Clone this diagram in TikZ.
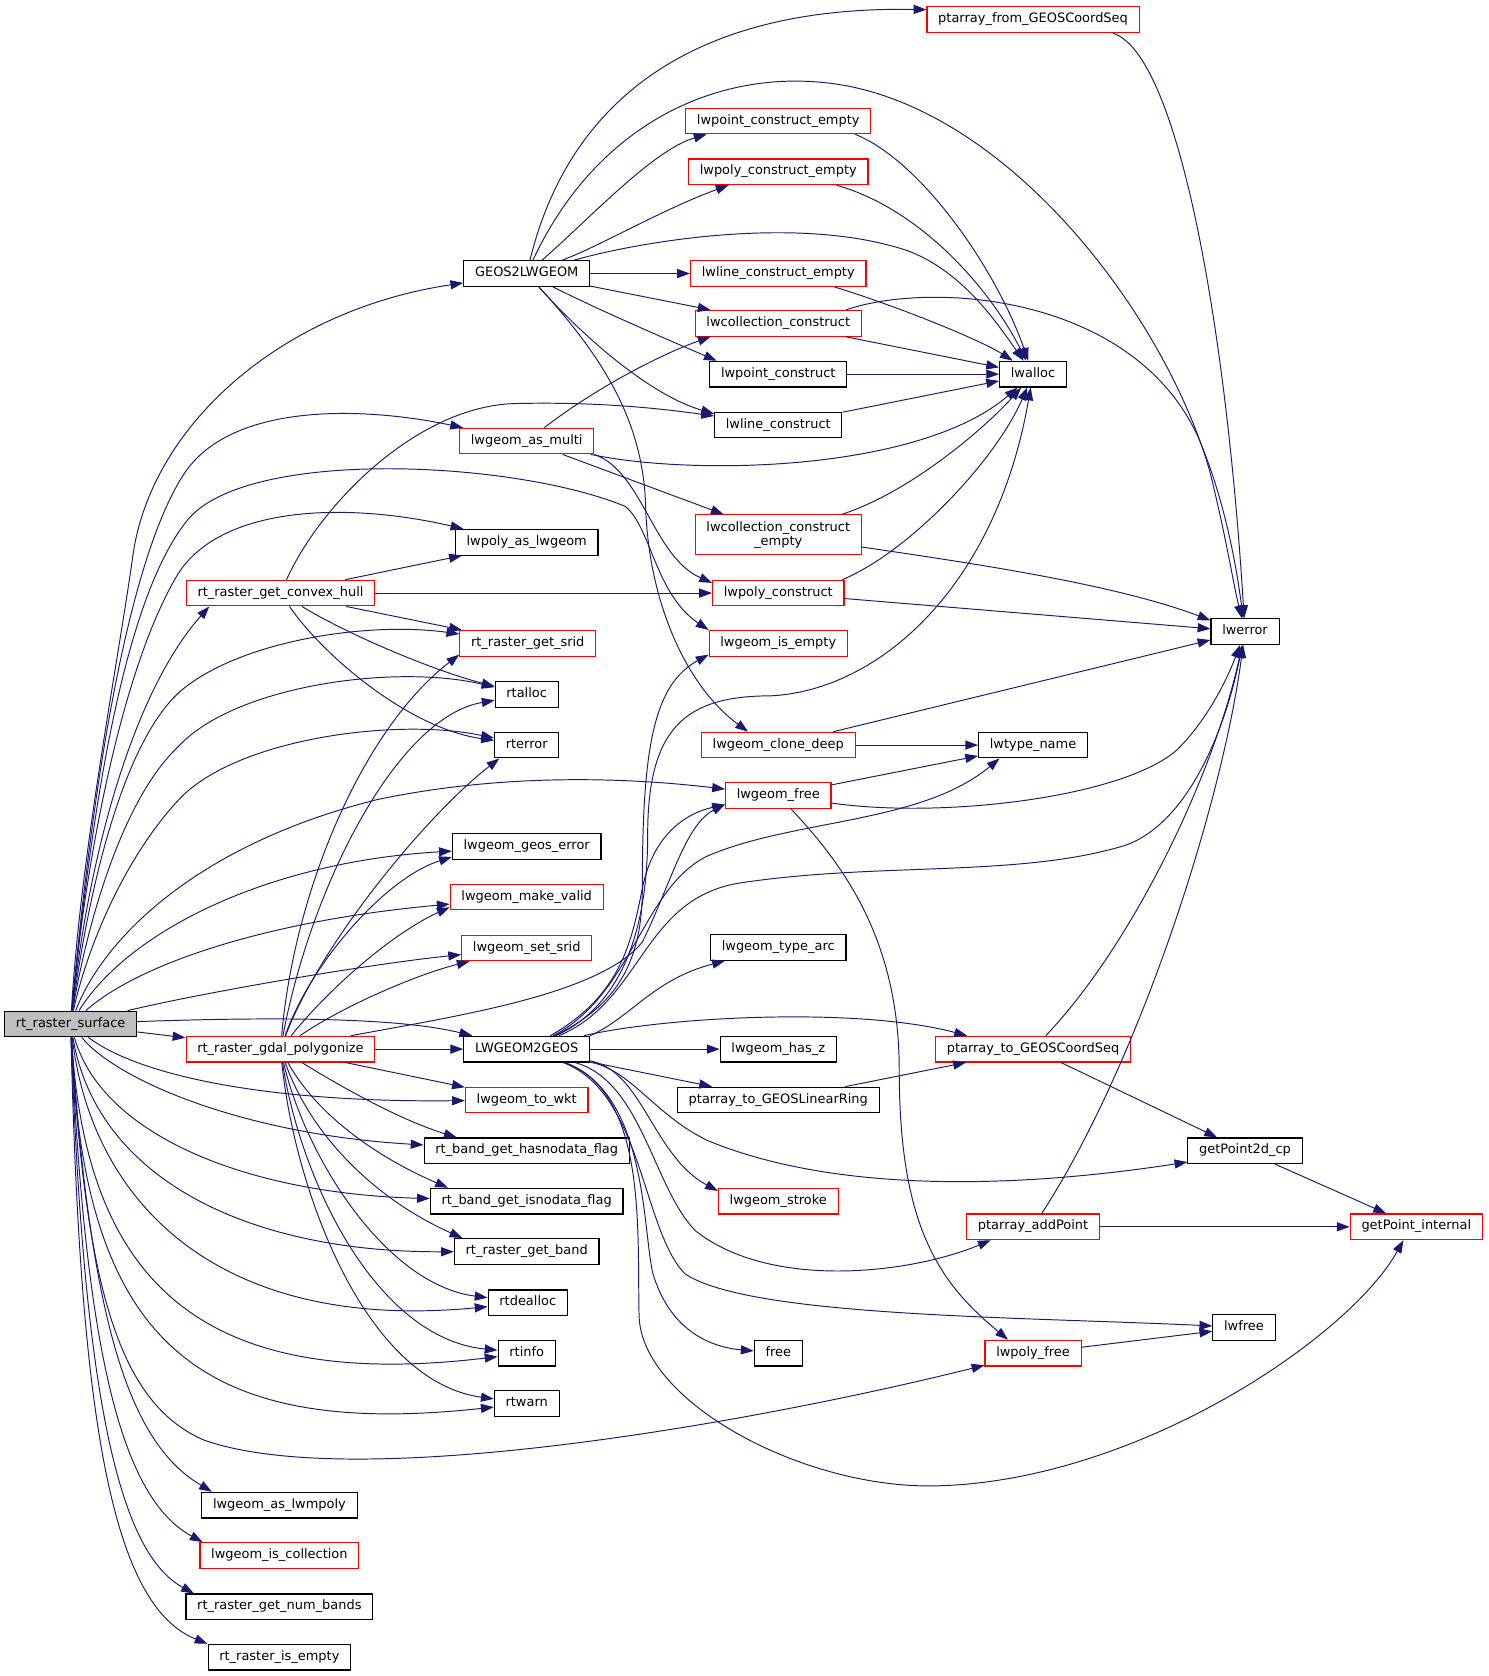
\documentclass[tikz,border=0pt]{standalone}
\usepackage{fontspec}
\setmainfont{DejaVu Sans}
\usetikzlibrary{arrows.meta}
\definecolor{edgec}{RGB}{25,25,112}
\definecolor{rootfill}{RGB}{191,191,191}
\newcommand\nfont{\fontsize{12.1pt}{13.3pt}\selectfont}
\begin{document}
\begin{tikzpicture}[x=1pt,y=-1pt,
  box/.style={draw, line width=1pt, fill=white, font=\nfont, inner xsep=10.5pt, inner ysep=0pt, minimum height=24pt, text height=9.2pt, text depth=3.4pt},
  nb/.style={box, draw=black},
  nr/.style={box, draw=red},
  edg/.style={draw=edgec, line width=0.9pt, -{Triangle[length=12pt,width=8.5pt]}}]
\useasboundingbox (0,0) rectangle (1390,1565.6);
% nodes
\node[nb, fill=rootfill] (rs) at (66,956.5) {rt\_raster\_surface};
\node[nb] (g2l) at (492,255.5) {GEOS2LWGEOM};
\node[nr] (pfg) at (965,18.5) {ptarray\_from\_GEOSCoordSeq};
\node[nr] (lpce) at (727,113) {lwpoint\_construct\_empty};
\node[nr] (lpoce) at (727,160.5) {lwpoly\_construct\_empty};
\node[nr] (llce) at (727,255.5) {lwline\_construct\_empty};
\node[nr] (lcc) at (727,302) {lwcollection\_construct};
\node[nb] (lpc) at (727,349.5) {lwpoint\_construct};
\node[nb] (llc) at (727,397) {lwline\_construct};
\node[nb] (lwalloc) at (965,349.5) {lwalloc};
\node[nr] (gam) at (492,412) {lwgeom\_as\_multi};
\node[nr, text height=, text depth=, minimum height=37pt, align=center] (lcce) at (727,499.5) {lwcollection\_construct\\\_empty};
\node[nb] (ppal) at (492,506.5) {lwpoly\_as\_lwgeom};
\node[nr] (cvx) at (262,554) {rt\_raster\_get\_convex\_hull};
\node[nr] (lpoc) at (727,554) {lwpoly\_construct};
\node[nb] (lwerror) at (1163,590) {lwerror};
\node[nr] (srid) at (493,601) {rt\_raster\_get\_srid};
\node[nr] (gie) at (727,601) {lwgeom\_is\_empty};
\node[nb] (rtalloc) at (492,649) {rtalloc};
\node[nr] (gcd) at (727,696) {lwgeom\_clone\_deep};
\node[nb] (ltn) at (965,696) {lwtype\_name};
\node[nb] (rterror) at (492,696) {rterror};
\node[nr] (gfree) at (727,743) {lwgeom\_free};
\node[nb] (gge) at (492,791) {lwgeom\_geos\_error};
\node[nr] (gmv) at (492,838) {lwgeom\_make\_valid};
\node[nr] (gss) at (492,885.5) {lwgeom\_set\_srid};
\node[nb] (gta) at (727,885) {lwgeom\_type\_arc};
\node[nr] (poly) at (262,980) {rt\_raster\_gdal\_polygonize};
\node[nb] (l2g) at (492,980) {LWGEOM2GEOS};
\node[nb] (ghz) at (727,980) {lwgeom\_has\_z};
\node[nr] (ptcs) at (965,980) {ptarray\_to\_GEOSCoordSeq};
\node[nb] (ptlr) at (727,1027.5) {ptarray\_to\_GEOSLinearRing};
\node[nr] (wkt) at (492,1027.5) {lwgeom\_to\_wkt};
\node[nb] (gp2) at (1163,1075) {getPoint2d\_cp};
\node[nb] (hnd) at (492,1075) {rt\_band\_get\_hasnodata\_flag};
\node[nb] (ind) at (492,1122) {rt\_band\_get\_isnodata\_flag};
\node[nr] (gst) at (727,1122) {lwgeom\_stroke};
\node[nr] (pap) at (965,1146) {ptarray\_addPoint};
\node[nr] (gpi) at (1323,1146) {getPoint\_internal};
\node[nb] (rgb) at (492,1169) {rt\_raster\_get\_band};
\node[nb] (rtdealloc) at (493,1217) {rtdealloc};
\node[nb] (lwfree) at (1162,1240) {lwfree};
\node[nb] (free) at (727,1264) {free};
\node[nb] (rtinfo) at (492,1264) {rtinfo};
\node[nr] (pfree) at (965,1264) {lwpoly\_free};
\node[nb] (rtwarn) at (492,1311) {rtwarn};
\node[nb] (glmp) at (261,1406) {lwgeom\_as\_lwmpoly};
\node[nr] (gic) at (261,1453) {lwgeom\_is\_collection};
\node[nb] (gnb) at (261,1501) {rt\_raster\_get\_num\_bands};
\node[nb] (rie) at (261,1548) {rt\_raster\_is\_empty};
% rt_raster_surface
\draw[edg] (rs) .. controls (75,800) and (110,620) .. (124,520) .. controls (140,400) and (260,290) .. (g2l);
\draw[edg] (rs) .. controls (80,800) and (110,540) .. (171,444) .. controls (215,375) and (340,380) .. (gam);
\draw[edg] (rs) .. controls (85,760) and (115,560) .. (175,486) .. controls (230,418) and (480,430) .. (584,473) .. controls (608,492) and (612,555) .. (gie.north west);
\draw[edg] (rs) .. controls (80,800) and (115,620) .. (167,535) .. controls (210,470) and (330,470) .. ([xshift=8pt]ppal.north west);
\draw[edg] (rs) .. controls (85,780) and (130,640) .. ([xshift=22pt]cvx.south west);
\draw[edg] (rs) .. controls (80,850) and (110,700) .. (167,647) .. controls (220,600) and (340,580) .. (srid);
\draw[edg] (rs) .. controls (78,880) and (110,750) .. (167,697) .. controls (220,640) and (370,620) .. (rtalloc);
\draw[edg] (rs) .. controls (80,890) and (114,804) .. (167,747) .. controls (220,690) and (370,670) .. (rterror);
\draw[edg] (rs) .. controls (95,880) and (180,790) .. (352,747) .. controls (480,720) and (600,728) .. (gfree);
\draw[edg] (rs) .. controls (120,870) and (250,805) .. (gge);
\draw[edg] (rs) .. controls (130,900) and (250,860) .. (gmv);
\draw[edg] (rs) .. controls (200,925) and (350,900) .. (gss);
\draw[edg] (rs) -- (poly);
\draw[edg] (rs) .. controls (250,950) and (370,950) .. (l2g);
\draw[edg] (rs) .. controls (130,1005) and (250,1030) .. (wkt);
\draw[edg] (rs) .. controls (110,1010) and (230,1060) .. (hnd);
\draw[edg] (rs) .. controls (95,1060) and (230,1115) .. (ind);
\draw[edg] (rs) .. controls (90,1100) and (230,1170) .. (rgb);
\draw[edg] (rs) .. controls (85,1120) and (200,1245) .. (rtdealloc);
\draw[edg] (rs) .. controls (80,1200) and (190,1300) .. (rtinfo);
\draw[edg] (rs) .. controls (78,1250) and (180,1345) .. (rtwarn);
\draw[edg] (rs) .. controls (80,1200) and (110,1310) .. (190,1345) .. controls (330,1395) and (700,1330) .. (pfree);
\draw[edg] (rs) .. controls (85,1250) and (125,1350) .. ([xshift=10pt]glmp.north west);
\draw[edg] (rs) .. controls (80,1270) and (115,1400) .. ([xshift=3pt]gic.north west);
\draw[edg] (rs) .. controls (78,1300) and (110,1450) .. ([xshift=8pt]gnb.north west);
\draw[edg] (rs) .. controls (75,1330) and (105,1500) .. (rie.north west);
% GEOS2LWGEOM
\draw[edg] (g2l) .. controls (530,100) and (640,5) .. ([yshift=-3pt]pfg.north west);
\draw[edg] (g2l) .. controls (560,110) and (680,60) .. (790,80) .. controls (950,110) and (1090,300) .. (1130,440) .. controls (1145,500) and (1152,545) .. (lwerror);
\draw[edg] (g2l) .. controls (550,205) and (610,140) .. ([xshift=20pt]lpce.south west);
\draw[edg] (g2l) .. controls (560,230) and (620,195) .. ([xshift=38pt]lpoce.south west);
\draw[edg] (g2l) .. controls (600,225) and (750,200) .. (850,235) .. controls (900,255) and (930,300) .. (lwalloc);
\draw[edg] (g2l) -- (llce);
\draw[edg] (g2l) -- (lcc);
\draw[edg] (g2l) .. controls (560,290) and (630,320) .. ([xshift=7pt]lpc.north west);
\draw[edg] (g2l) .. controls (550,320) and (610,370) .. ([yshift=-2pt]llc.north west);
\draw[edg] (g2l) .. controls (560,330) and (600,390) .. (603,470) .. controls (605,560) and (640,640) .. ([xshift=44pt]gcd.north west);
% constructors
\draw[edg] ([xshift=-25pt]pfg.south east) .. controls (1100,50) and (1145,300) .. (lwerror);
\draw[edg] ([xshift=-15pt]lpce.south east) .. controls (860,150) and (930,250) .. (lwalloc);
\draw[edg] ([xshift=-30pt]lpoce.south east) .. controls (860,195) and (925,270) .. (lwalloc);
\draw[edg] ([xshift=-30pt]llce.south east) .. controls (850,290) and (920,320) .. (lwalloc);
\draw[edg] (lcc) -- (lwalloc);
\draw[edg] ([xshift=-15pt]lcc.north east) .. controls (870,262) and (1060,275) .. (1120,410) .. controls (1145,470) and (1155,530) .. (lwerror);
\draw[edg] (lpc) -- (lwalloc);
\draw[edg] (llc) -- (lwalloc);
\draw[edg] (gam) .. controls (560,360) and (620,330) .. ([xshift=15pt]lcc.south west);
\draw[edg] (gam) .. controls (650,445) and (860,440) .. (lwalloc);
\draw[edg] (gam) -- (lcce);
\draw[edg] (gam.south east) .. controls (600,440) and (610,520) .. ([yshift=-3pt]lpoc.north west);
\draw[edg] (lcce) .. controls (850,460) and (920,400) .. (lwalloc);
\draw[edg] (lcce) .. controls (900,525) and (1040,545) .. ([yshift=-2pt]lwerror.north west);
\draw[edg] ([xshift=-2pt]lpoc.north east) .. controls (850,515) and (930,430) .. (lwalloc);
\draw[edg] (lpoc) -- (lwerror);
\draw[edg] (gcd) -- (lwerror);
\draw[edg] (gcd) -- (ltn);
\draw[edg] (gfree) -- (ltn);
\draw[edg] (gfree) .. controls (880,765) and (1050,745) .. (1100,700) .. controls (1130,670) and (1148,630) .. (lwerror);
\draw[edg] (gfree) .. controls (790,810) and (840,880) .. (840,1000) .. controls (840,1150) and (880,1200) .. ([xshift=22pt]pfree.north west);
% convex hull
\draw[edg] (cvx) .. controls (300,470) and (390,380) .. (480,377) .. controls (560,375) and (620,382) .. (llc);
\draw[edg] (cvx) -- (ppal);
\draw[edg] (cvx) -- (lpoc);
\draw[edg] (cvx) -- (srid);
\draw[edg] (cvx) .. controls (320,590) and (400,625) .. (rtalloc);
\draw[edg] (cvx) .. controls (300,610) and (380,680) .. (rterror);
% polygonize
\draw[edg] (poly) .. controls (275,830) and (340,680) .. ([yshift=2pt]srid.south west);
\draw[edg] (poly) .. controls (290,830) and (370,670) .. (rtalloc);
\draw[edg] (poly) .. controls (300,880) and (400,760) .. ([xshift=5pt]rterror.south west);
\draw[edg] (poly) .. controls (290,900) and (360,820) .. ([yshift=3pt]gge.south west);
\draw[edg] (poly) .. controls (310,920) and (370,870) .. ([yshift=3pt]gmv.south west);
\draw[edg] (poly) .. controls (320,940) and (390,910) .. ([xshift=8pt]gss.south west);
\draw[edg] (poly) -- (l2g);
\draw[edg] (poly) -- (wkt);
\draw[edg] (poly) .. controls (310,1010) and (370,1045) .. ([xshift=31pt]hnd.north west);
\draw[edg] (poly) .. controls (295,1040) and (350,1080) .. ([xshift=17pt]ind.north west);
\draw[edg] (poly) .. controls (290,1060) and (350,1120) .. ([xshift=8pt]rgb.north west);
\draw[edg] (poly) .. controls (285,1080) and (360,1200) .. (rtdealloc);
\draw[edg] (poly) .. controls (280,1100) and (350,1250) .. (rtinfo);
\draw[edg] (poly) .. controls (275,1110) and (340,1290) .. (rtwarn);
\draw[edg] (poly) .. controls (420,950) and (560,930) .. (600,880) .. controls (625,830) and (640,770) .. ([yshift=4pt]gfree.south west);
% LWGEOM2GEOS
\draw[edg] (l2g) .. controls (575,940) and (600,900) .. (600,830) .. controls (600,700) and (610,640) .. ([yshift=2pt]gie.south west);
\draw[edg] (l2g) .. controls (580,930) and (590,880) .. (600,830) .. controls (610,780) and (640,760) .. ([yshift=4pt]gfree.south west);
\draw[edg] (l2g) .. controls (590,930) and (600,830) .. (660,800) .. controls (740,765) and (860,770) .. ([xshift=20pt]ltn.south west);
\draw[edg] (l2g) .. controls (600,935) and (600,840) .. (690,825) .. controls (820,805) and (950,820) .. (1050,790) .. controls (1110,770) and (1145,680) .. (lwerror);
\draw[edg] (l2g) .. controls (590,935) and (605,850) .. (605,780) .. controls (605,680) and (640,650) .. (720,650) .. controls (820,645) and (930,550) .. (lwalloc);
\draw[edg] (l2g.north east) .. controls (590,950) and (610,915) .. ([xshift=14pt]gta.south west);
\draw[edg] (l2g) -- (ghz);
\draw[edg] (l2g) .. controls (620,950) and (800,940) .. ([xshift=30pt]ptcs.north west);
\draw[edg] (l2g) -- (ptlr);
\draw[edg] (l2g) .. controls (590,1000) and (610,1040) .. (660,1065) .. controls (780,1115) and (950,1110) .. ([yshift=2pt]gp2.south west);
\draw[edg] (l2g) .. controls (600,1000) and (610,1080) .. ([yshift=-3pt]gst.north west);
\draw[edg] (l2g) .. controls (600,1010) and (610,1110) .. (650,1150) .. controls (720,1205) and (850,1190) .. ([xshift=23pt]pap.south west);
\draw[edg] (l2g) .. controls (600,1020) and (600,1150) .. (640,1190) .. controls (700,1230) and (950,1230) .. (lwfree);
\draw[edg] (l2g) .. controls (605,1020) and (600,1150) .. (610,1190) .. controls (625,1240) and (660,1258) .. (free);
\draw[edg] (l2g) .. controls (605,1020) and (595,1150) .. (597,1230) .. controls (600,1310) and (750,1390) .. (872,1388) .. controls (1060,1385) and (1260,1250) .. ([xshift=-12pt]gpi.south);
% others
\draw[edg] (ptcs) .. controls (1060,880) and (1135,720) .. (lwerror);
\draw[edg] (ptcs) -- (gp2);
\draw[edg] (ptlr) -- (ptcs);
\draw[edg] (gp2) -- (gpi);
\draw[edg] (pap) -- (gpi);
\draw[edg] (pap) .. controls (1060,1000) and (1140,760) .. (lwerror);
\draw[edg] (pfree) -- (lwfree);
\end{tikzpicture}
\end{document}
